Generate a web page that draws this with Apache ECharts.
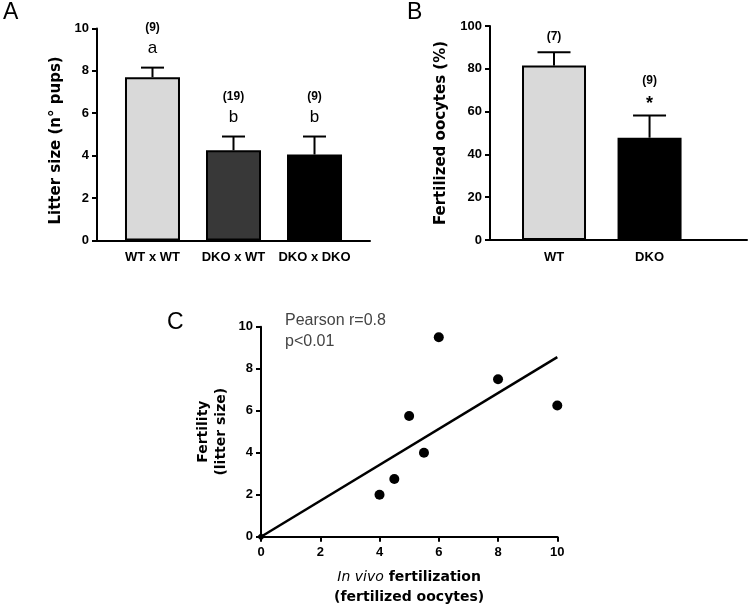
<!DOCTYPE html>
<html>
<head>
<meta charset="utf-8">
<script src="https://cdn.jsdelivr.net/npm/echarts@6/dist/echarts.min.js"></script>
<style>
html,body{margin:0;padding:0;background:#fff;}
#chart{width:750px;height:608px;}
</style>
</head>
<body>
<div id="chart"></div>
<script>
// ---- Panel A data ----
const catsA = ['WT x WT', 'DKO x WT', 'DKO x DKO'];
const litterMean = [7.7, 4.25, 4.05];
const litterErrTop = [8.15, 4.9, 4.9];
const litterN = ['(9)', '(19)', '(9)'];
const litterSig = ['a', 'b', 'b'];
const ticksA = [0, 2, 4, 6, 8, 10];

// ---- Panel B data ----
const catsB = ['WT', 'DKO'];
const fertMean = [81.5, 47.8];
const fertErrTop = [87.7, 58.2];
const fertN = ['(7)', '(9)'];
const fertSig = ['', '*'];
const ticksB = [0, 20, 40, 60, 80, 100];

// ---- Panel C data ----
const invivoX = [4, 4.5, 5, 5.5, 6, 8, 10];
const litterY = [2, 2.75, 5.75, 4, 9.5, 7.5, 6.25];
const fitStart = [0, 0];
const fitEnd = [10, 8.55];
const ticksC = [0, 2, 4, 6, 8, 10];

// ---- styles ----
const barColorsA = ['#d9d9d9', '#383838', '#000000'];
const barColorsB = ['#d9d9d9', '#000000'];
const tickFont = 'Liberation Sans, Arial, sans-serif';
const titleFont = 'DejaVu Sans, Verdana, sans-serif';

const chart = echarts.init(document.getElementById('chart'), null, {renderer: 'canvas'});

function errRenderer(means, tops, nLabels, sigLabels, capW, cfg) {
  return function (params, api) {
    const i = params.dataIndex;
    const x = api.value(0);
    const pm = api.coord([x, means[i]]);
    const pt = api.coord([x, tops[i]]);
    const children = [
      {type: 'line', shape: {x1: pm[0], y1: pm[1], x2: pt[0], y2: pt[1]}, style: {stroke: '#000', lineWidth: 2}},
      {type: 'line', shape: {x1: pt[0] - capW / 2, y1: pt[1], x2: pt[0] + capW / 2, y2: pt[1]}, style: {stroke: '#000', lineWidth: 2}}
    ];
    const sig = sigLabels[i];
    if (sig) {
      children.push({type: 'text', style: {text: sig, x: pt[0], y: pt[1] - cfg.sigGap, font: cfg.sigFont, fill: '#000', align: 'center', verticalAlign: 'middle'}});
    }
    children.push({type: 'text', style: {text: nLabels[i], x: pt[0], y: pt[1] - (sig ? cfg.nGap : cfg.nGapAlone), font: 'bold 12px ' + tickFont, fill: '#000', align: 'center', verticalAlign: 'middle'}});
    return {type: 'group', children: children};
  };
}

const axisLineStyle = {show: true, onZero: false, lineStyle: {color: '#000', width: 2}};
const tickStyle = {show: true, length: 5, lineStyle: {color: '#000', width: 2}};
const tickLabel = {color: '#000', fontFamily: tickFont, fontWeight: 'bold', fontSize: 13};
const letterStyle = {fontFamily: tickFont, fontSize: 23, fontWeight: 'normal', color: '#000'};

const option = {
  animation: false,
  backgroundColor: '#fff',
  title: [
    {text: 'A', left: 3, top: 1, padding: 0, textStyle: letterStyle},
    {text: 'B', left: 407, top: 1, padding: 0, textStyle: letterStyle},
    {text: 'C', left: 167, top: 311, padding: 0, textStyle: letterStyle},
    {text: 'Pearson r=0.8\np<0.01', left: 285, top: 310, padding: 0, textStyle: {fontFamily: tickFont, fontSize: 16, fontWeight: 'normal', color: '#444', lineHeight: 21}}
  ],
  grid: [
    {left: 97, top: 28.4, width: 273, height: 212, outerBoundsMode: 'none'},
    {left: 490, top: 26, width: 257, height: 214, outerBoundsMode: 'none'},
    {left: 261, top: 326.7, width: 296.3, height: 210, outerBoundsMode: 'none'}
  ],
  xAxis: [
    {gridIndex: 0, type: 'value', min: -0.685, max: 2.685, splitLine: {show: false}, axisLine: axisLineStyle, axisTick: {show: false},
     axisLabel: Object.assign({}, tickLabel, {margin: 11, customValues: catsA.map((c, i) => i), formatter: v => catsA[Math.round(v)] || ''})},
    {gridIndex: 1, type: 'value', min: -0.67, max: 2.02, splitLine: {show: false}, axisLine: axisLineStyle, axisTick: {show: false},
     axisLabel: Object.assign({}, tickLabel, {margin: 11, customValues: catsB.map((c, i) => i), formatter: v => catsB[Math.round(v)] || ''})},
    {gridIndex: 2, type: 'value', min: 0, max: 10, interval: 2, splitLine: {show: false}, axisLine: axisLineStyle, axisTick: tickStyle,
     axisLabel: Object.assign({}, tickLabel, {margin: 9}),
     name: '{i|In vivo} fertilization\n(fertilized oocytes)', nameLocation: 'middle', nameGap: 31,
     nameTextStyle: {color: '#000', fontFamily: titleFont, fontWeight: 'bold', fontSize: 14, lineHeight: 20,
       rich: {i: {fontStyle: 'italic', fontWeight: 'normal', fontFamily: titleFont, fontSize: 14, lineHeight: 20, color: '#000'}}}}
  ],
  yAxis: [
    {gridIndex: 0, type: 'value', min: 0, max: 10, interval: 2, splitLine: {show: false}, axisLine: axisLineStyle, axisTick: tickStyle,
     axisLabel: Object.assign({}, tickLabel, {margin: 8, customValues: ticksA}),
     name: 'Litter size (n° pups)', nameLocation: 'middle', nameGap: 33,
     nameTextStyle: {color: '#000', fontFamily: titleFont, fontWeight: 'bold', fontSize: 15, padding: [0, 12, 0, 0]}},
    {gridIndex: 1, type: 'value', min: 0, max: 100, interval: 20, splitLine: {show: false}, axisLine: axisLineStyle, axisTick: tickStyle,
     axisLabel: Object.assign({}, tickLabel, {margin: 8, customValues: ticksB}),
     name: 'Fertilized oocytes (%)', nameLocation: 'middle', nameGap: 41,
     nameTextStyle: {color: '#000', fontFamily: titleFont, fontWeight: 'bold', fontSize: 15}},
    {gridIndex: 2, type: 'value', min: 0, max: 10, interval: 2, splitLine: {show: false}, axisLine: axisLineStyle, axisTick: tickStyle,
     axisLabel: Object.assign({}, tickLabel, {margin: 8, customValues: ticksC}),
     name: 'Fertility\n(litter size)', nameLocation: 'middle', nameGap: 31,
     nameTextStyle: {color: '#000', fontFamily: titleFont, fontWeight: 'bold', fontSize: 14, lineHeight: 18}}
  ],
  series: [
    {type: 'bar', xAxisIndex: 0, yAxisIndex: 0, barWidth: 55,
     data: litterMean.map((v, i) => ({value: [i, v], itemStyle: {color: barColorsA[i], borderColor: '#000', borderWidth: 2}}))},
    {type: 'custom', xAxisIndex: 0, yAxisIndex: 0, z: 5,
     renderItem: errRenderer(litterMean, litterErrTop, litterN, litterSig, 23, {sigGap: 19, nGap: 40, nGapAlone: 19, sigFont: 'normal 17px ' + tickFont}),
     data: litterErrTop.map((v, i) => [i, v])},
    {type: 'bar', xAxisIndex: 1, yAxisIndex: 1, barWidth: 64,
     data: fertMean.map((v, i) => ({value: [i, v], itemStyle: {color: barColorsB[i], borderColor: '#000', borderWidth: 2}}))},
    {type: 'custom', xAxisIndex: 1, yAxisIndex: 1, z: 5,
     renderItem: errRenderer(fertMean, fertErrTop, fertN, fertSig, 33, {sigGap: 11, nGap: 35, nGapAlone: 16, sigFont: 'bold 18px ' + tickFont}),
     data: fertErrTop.map((v, i) => [i, v])},
    {type: 'line', xAxisIndex: 2, yAxisIndex: 2, data: [fitStart, fitEnd], lineStyle: {color: '#000', width: 2.5},
     symbol: 'diamond', symbolSize: (v, p) => p.dataIndex === 0 ? 8 : 0, itemStyle: {color: '#000', opacity: 1}, z: 3},
    {type: 'scatter', xAxisIndex: 2, yAxisIndex: 2, symbolSize: 10, itemStyle: {color: '#000', opacity: 1},
     data: invivoX.map((x, i) => [x, litterY[i]]), z: 4}
  ]
};
chart.setOption(option);
</script>
</body>
</html>
